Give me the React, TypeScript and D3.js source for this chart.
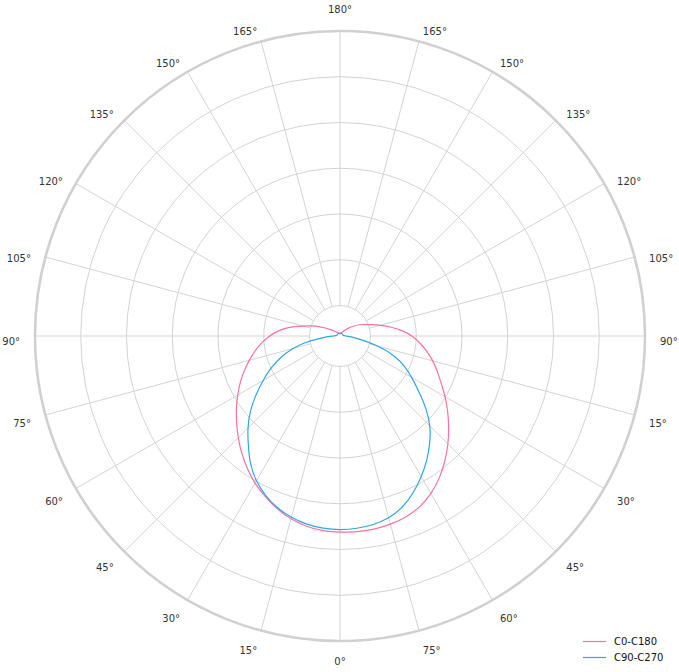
import React from 'react';
import * as d3 from 'd3';

// gamma angles (deg from nadir) at which the intensities are read
const gammas = d3.range(0, 181, 5);

// C0-C180 plane, right half (C0) and left half (C180)
const c0 = [
  64.4, 64.5, 64.4, 64.0, 63.3, 62.0, 59.8, 57.0, 53.6, 50.2, 46.6, 43.2, 39.9,
  36.6, 34.0, 31.6, 29.0, 26.4, 23.8, 20.7, 17.0, 13.8, 11.0, 8.9, 7.5, 5.9, 4.6,
  3.4, 2.6, 2.0, 1.6, 1.3, 1.1, 1.0, 0.9, 0.8, 0.8,
];
const c180 = [
  64.4, 64.2, 63.5, 62.2, 60.4, 58.1, 55.9, 53.1, 50.2, 47.3, 44.3, 41.6, 38.8,
  36.2, 33.5, 30.9, 28.4, 25.9, 23.2, 20.3, 17.0, 12.8, 9.8, 7.2, 5.1, 3.6, 2.6,
  2.1, 1.6, 1.3, 1.1, 1.0, 1.0, 0.9, 0.8, 0.8, 0.8,
];

// C90-C270 plane, right half (C90) and left half (C270)
const c90 = [
  63.6, 63.4, 62.9, 61.9, 60.0, 56.9, 53.4, 49.8, 45.9, 42.0, 37.0, 31.5, 27.2,
  23.6, 19.2, 13.8, 7.5, 4.1, 2.0, 1.3, 1.1, 1.0, 1.0, 1.0, 1.0, 1.0, 1.0, 1.0,
  1.0, 1.0, 1.0, 0.9, 0.9, 0.9, 0.8, 0.8, 0.8,
];
const c270 = [
  63.6, 63.4, 62.8, 61.7, 60.1, 57.9, 55.0, 51.5, 46.8, 42.9, 38.6, 33.8, 29.2,
  25.2, 21.0, 16.7, 11.5, 5.9, 2.3, 1.3, 1.1, 1.0, 1.0, 1.0, 1.0, 1.0, 1.0, 1.0,
  1.0, 1.0, 1.0, 0.9, 0.9, 0.9, 0.8, 0.8, 0.8,
];

// radial grid circles and the axis maximum
const radialTicks = [10, 25, 40, 55, 70, 85];
const radialMax = 100;

// angular tick labels, positions every 15 deg from the nadir
const tickGammas = d3.range(15, 180, 15);
const leftLabels = ['15°', '30°', '45°', '60°', '75°', '90°', '105°', '120°', '135°', '150°', '165°'];
const rightLabels = ['75°', '60°', '45°', '30°', '15°', '90°', '105°', '120°', '135°', '150°', '165°'];

const series = [
  { name: 'C0-C180', left: c180, right: c0, color: '#ff6f9f' },
  { name: 'C90-C270', left: c270, right: c90, color: '#2ea6ea' },
];

const W = 679;
const H = 672;
const cx = 340;
const cy = 336;
const R = 305;
const deg = Math.PI / 180;

export default function App() {
  const r = d3.scaleLinear().domain([0, radialMax]).range([0, R]);

  const line = d3
    .lineRadial<{ a: number; v: number }>()
    .angle((d) => d.a)
    .radius((d) => r(d.v))
    .curve(d3.curveBasis);

  const buildPoints = (left: number[], right: number[]) => {
    // left half from zenith down to nadir, then right half back up
    const l = gammas.map((g, i) => ({ a: Math.PI + g * deg, v: left[i] })).reverse();
    const rt = gammas.slice(1).map((g, i) => ({ a: Math.PI - g * deg, v: right[i + 1] }));
    return [...l, ...rt];
  };

  // label box corner sits just outside the rim
  const labelPos = (gamma: number, side: number, text: string) => {
    const ux = side * Math.sin(gamma * deg);
    const uy = Math.cos(gamma * deg);
    const w = (text.length - 1) * 6.36 + 5;
    const hx = Math.abs(ux) < 1e-6 ? 0 : Math.sign(ux) * (w / 2);
    const hy = gamma === 180 ? -7 : 5;
    return { x: cx + 320 * ux + hx, y: cy + 320 * uy + hy };
  };

  const labels: { x: number; y: number; t: string }[] = [];
  labels.push({ ...labelPos(0, 1, '0°'), t: '0°' });
  labels.push({ ...labelPos(180, 1, '180°'), t: '180°' });
  tickGammas.forEach((g, i) => {
    labels.push({ ...labelPos(g, -1, leftLabels[i]), t: leftLabels[i] });
    labels.push({ ...labelPos(g, 1, rightLabels[i]), t: rightLabels[i] });
  });

  const spokes = d3.range(0, 360, 15);

  return (
    <svg
      width={W}
      height={H}
      style={{ position: 'absolute', left: 0, top: 0, background: '#fff' }}
      fontFamily="DejaVu Sans, sans-serif"
    >
      <g transform={`translate(${cx},${cy})`}>
        {radialTicks.map((t) => (
          <circle key={t} r={r(t)} fill="none" stroke="#d3d3d3" strokeWidth={1} />
        ))}
        {spokes.map((s) => {
          const a = s * deg;
          return (
            <line
              key={s}
              x1={r(radialTicks[0]) * Math.sin(a)}
              y1={r(radialTicks[0]) * Math.cos(a)}
              x2={r(radialMax) * Math.sin(a)}
              y2={r(radialMax) * Math.cos(a)}
              stroke="#d3d3d3"
              strokeWidth={1}
            />
          );
        })}
        <circle r={r(radialMax)} fill="none" stroke="#d0d0d0" strokeWidth={2.6} />
        {series.map((s) => (
          <path
            key={s.name}
            d={line(buildPoints(s.left, s.right)) || ''}
            fill="none"
            stroke={s.color}
            strokeWidth={1.2}
          />
        ))}
      </g>
      {labels.map((l, i) => (
        <text
          key={i}
          x={l.x}
          y={l.y}
          textAnchor="middle"
          dominantBaseline="central"
          fontSize={10}
          fill="#333"
        >
          {l.t}
        </text>
      ))}
      <g transform="translate(583,641)">
        {series.map((s, i) => (
          <g key={s.name} transform={`translate(0,${i * 16})`}>
            <line x1={0} x2={23} y1={0.5} y2={0.5} stroke={s.color} strokeWidth={1.2} />
            <text x={31} y={0.5} dominantBaseline="central" fontSize={10} fill="#111">
              {s.name}
            </text>
          </g>
        ))}
      </g>
    </svg>
  );
}
